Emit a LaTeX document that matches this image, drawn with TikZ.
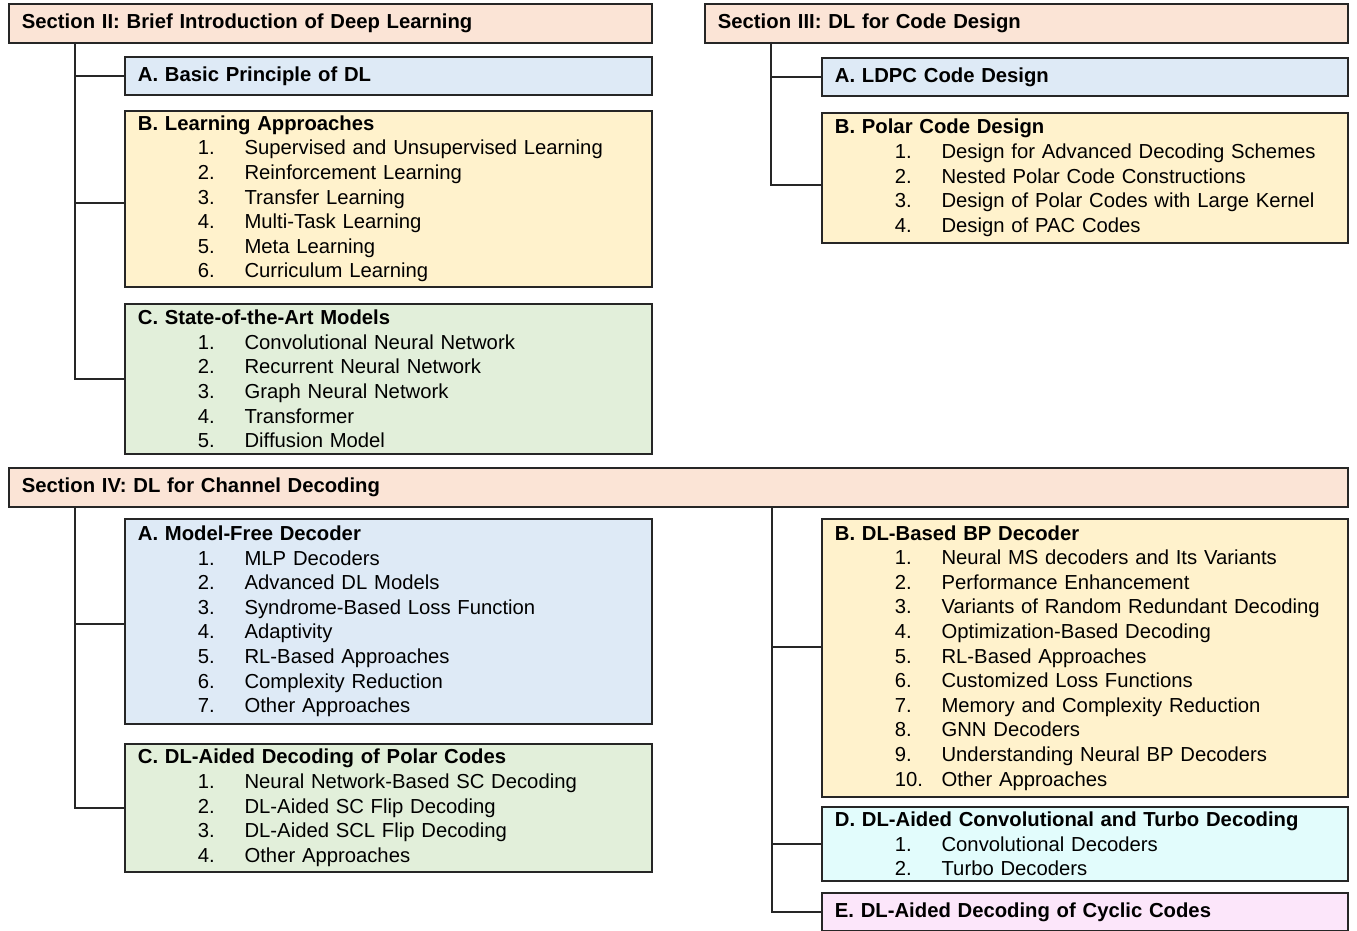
\documentclass[tikz,border=0pt]{standalone}
\usepackage{fontspec}
\setmainfont{Liberation Sans}
\usetikzlibrary{positioning}

\definecolor{secfill}{HTML}{FBE4D6}
\definecolor{bluefill}{HTML}{DEEAF6}
\definecolor{yellowfill}{HTML}{FFF2CC}
\definecolor{greenfill}{HTML}{E2EFDA}
\definecolor{cyanfill}{HTML}{E2FCFC}
\definecolor{pinkfill}{HTML}{FCE6FA}

% one numbered line inside a box
\newcommand{\li}[2]{\\\hspace*{45pt}\makebox[35pt][l]{#1}#2}

\tikzset{
  box/.style={draw=black!85, line width=1.4pt, anchor=north west, align=left,
    inner xsep=9.75pt, inner ysep=0pt, font=\fontsize{15.2}{18.45}\selectfont},
  secbox/.style={box, fill=secfill, minimum height=29.25pt,
    font=\bfseries\fontsize{15.2}{18.45}\selectfont},
  subbox/.style={box, text width=375.75pt},
  conn/.style={draw=black!85, line width=1.4pt},
}

\begin{document}
\begin{tikzpicture}[x=0.75pt,y=-0.75pt]
  \useasboundingbox (0,0) rectangle (1357,931);

  % section II
  \node[secbox, text width=462.75pt] (s2) at (8,3) {Section II: Brief Introduction of Deep Learning};
  \node[subbox, fill=bluefill, minimum height=28.5pt] (s2a) at (124,56) {\textbf{A. Basic Principle of DL}};
  \node[subbox, fill=yellowfill, minimum height=132pt] (s2b) at (124,110) {\textbf{B. Learning Approaches}
    \li{1.}{Supervised and Unsupervised Learning}
    \li{2.}{Reinforcement Learning}
    \li{3.}{Transfer Learning}
    \li{4.}{Multi-Task Learning}
    \li{5.}{Meta Learning}
    \li{6.}{Curriculum Learning}};
  \node[subbox, fill=greenfill, minimum height=112.5pt] (s2c) at (124,303) {\textbf{C. State-of-the-Art Models}
    \li{1.}{Convolutional Neural Network}
    \li{2.}{Recurrent Neural Network}
    \li{3.}{Graph Neural Network}
    \li{4.}{Transformer}
    \li{5.}{Diffusion Model}};

  % section III
  \node[secbox, text width=462.75pt] (s3) at (704,3) {Section III: DL for Code Design};
  \node[subbox, fill=bluefill, minimum height=28.5pt, text width=375pt] (s3a) at (821,57) {\textbf{A. LDPC Code Design}};
  \node[subbox, fill=yellowfill, minimum height=97.5pt, text width=375pt] (s3b) at (821,112) {\textbf{B. Polar Code Design}
    \li{1.}{Design for Advanced Decoding Schemes}
    \li{2.}{Nested Polar Code Constructions}
    \li{3.}{Design of Polar Codes with Large Kernel}
    \li{4.}{Design of PAC Codes}};

  % section IV
  \node[secbox, text width=984.75pt] (s4) at (8,467) {Section IV: DL for Channel Decoding};
  \node[subbox, fill=bluefill, minimum height=153.75pt] (s4a) at (124,518) {\textbf{A. Model-Free Decoder}
    \li{1.}{MLP Decoders}
    \li{2.}{Advanced DL Models}
    \li{3.}{Syndrome-Based Loss Function}
    \li{4.}{Adaptivity}
    \li{5.}{RL-Based Approaches}
    \li{6.}{Complexity Reduction}
    \li{7.}{Other Approaches}};
  \node[subbox, fill=greenfill, minimum height=96pt] (s4c) at (124,743) {\textbf{C. DL-Aided Decoding of Polar Codes}
    \li{1.}{Neural Network-Based SC Decoding}
    \li{2.}{DL-Aided SC Flip Decoding}
    \li{3.}{DL-Aided SCL Flip Decoding}
    \li{4.}{Other Approaches}};
  \node[subbox, fill=yellowfill, minimum height=208.5pt, text width=375pt] (s4b) at (821,518) {\textbf{B. DL-Based BP Decoder}
    \li{1.}{Neural MS decoders and Its Variants}
    \li{2.}{Performance Enhancement}
    \li{3.}{Variants of Random Redundant Decoding}
    \li{4.}{Optimization-Based Decoding}
    \li{5.}{RL-Based Approaches}
    \li{6.}{Customized Loss Functions}
    \li{7.}{Memory and Complexity Reduction}
    \li{8.}{GNN Decoders}
    \li{9.}{Understanding Neural BP Decoders}
    \li{10.}{Other Approaches}};
  \node[subbox, fill=cyanfill, minimum height=55.5pt, text width=375pt] (s4d) at (821,806) {\textbf{D. DL-Aided Convolutional and Turbo Decoding}
    \li{1.}{Convolutional Decoders}
    \li{2.}{Turbo Decoders}};
  \node[subbox, fill=pinkfill, minimum height=28.5pt, text width=375pt] (s4e) at (821,892) {\textbf{E. DL-Aided Decoding of Cyclic Codes}};

  % tree lines
  \coordinate (t2) at (75,42);
  \coordinate (b2) at ([yshift=-3pt]s2b.west);
  \draw[conn] (t2) |- (s2c.west);
  \draw[conn] (t2 |- s2a.west) -- (s2a.west);
  \draw[conn] (t2 |- b2) -- (b2);

  \coordinate (t3) at (771,42);
  \coordinate (b3) at ([yshift=-5.25pt]s3b.west);
  \draw[conn] (t3) |- (b3);
  \draw[conn] (t3 |- s3a.west) -- (s3a.west);

  \coordinate (t4l) at (75,506);
  \coordinate (a4) at ([yshift=-2pt]s4a.west);
  \draw[conn] (t4l) |- (s4c.west);
  \draw[conn] (t4l |- a4) -- (a4);

  \coordinate (t4r) at (772,506);
  \coordinate (b4) at ([yshift=8.25pt]s4b.west);
  \draw[conn] (t4r) |- (s4e.west);
  \draw[conn] (t4r |- b4) -- (b4);
  \draw[conn] (t4r |- s4d.west) -- (s4d.west);

\end{tikzpicture}
\end{document}
